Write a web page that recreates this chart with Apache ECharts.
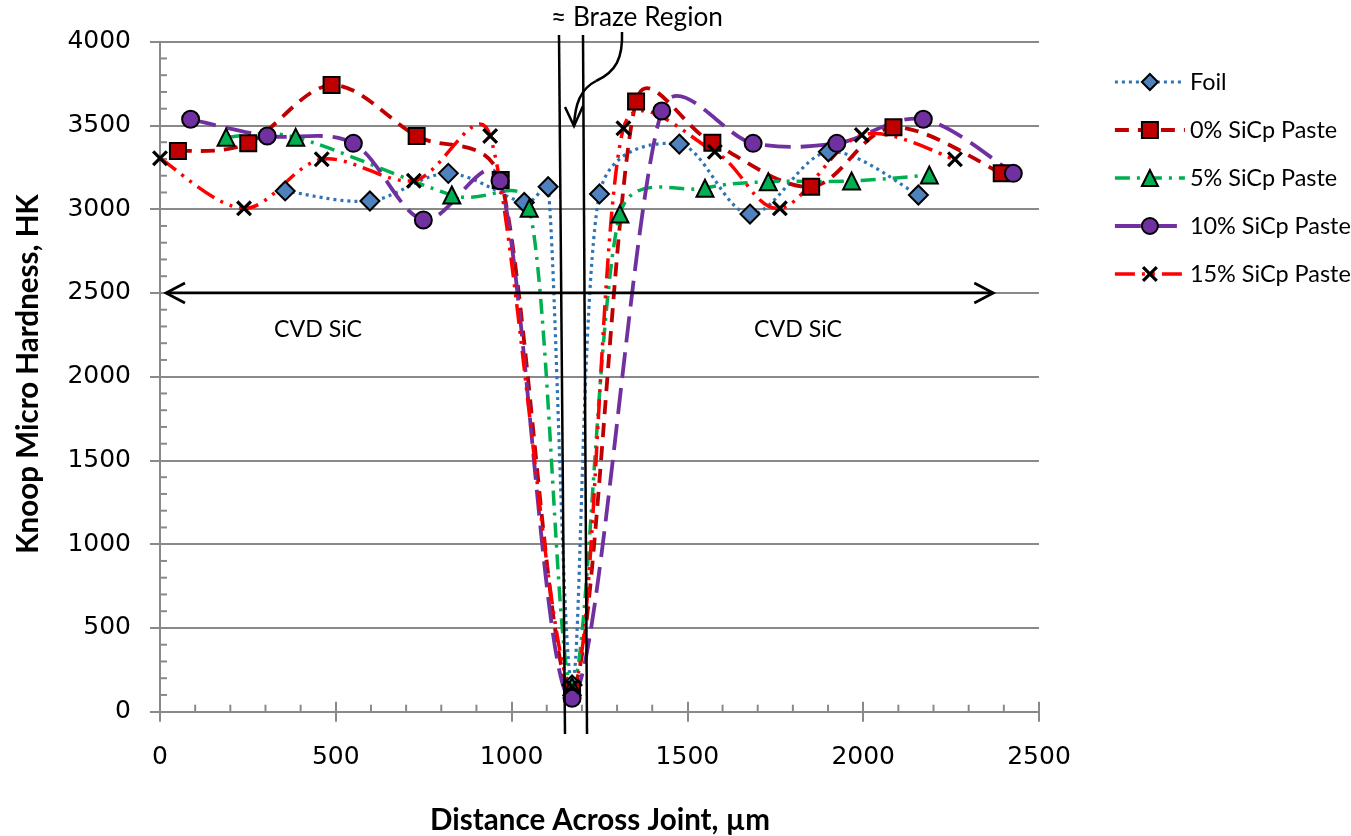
<!DOCTYPE html>
<html><head><meta charset="utf-8">
<script src="https://cdn.jsdelivr.net/npm/echarts@6/dist/echarts.min.js"></script>
<style>html,body{margin:0;padding:0;background:#fff}#c{width:1351px;height:836px}</style>
</head><body><div id="c"></div>
<script>
// ---- data (distance µm, Knoop hardness HK) ----
const seriesNames = ['Foil', '0% SiCp Paste', '5% SiCp Paste', '10% SiCp Paste', '15% SiCp Paste'];
const foilX = [356, 597, 820, 1036, 1104, 1172, 1250, 1477, 1678, 1901, 2157];
const foilY = [3109, 3049, 3214, 3040, 3134, 160, 3091, 3389, 2971, 3343, 3085];
const p0X = [51, 251, 488, 730, 969, 1172, 1354, 1571, 1852, 2086, 2394];
const p0Y = [3347, 3393, 3741, 3437, 3174, 130, 3643, 3397, 3134, 3489, 3214];
const p5X = [188, 386, 830, 1050, 1172, 1308, 1550, 1730, 1967, 2188];
const p5Y = [3429, 3429, 3085, 3005, 150, 2971, 3125, 3164, 3168, 3204];
const p10X = [87, 305, 550, 749, 967, 1172, 1427, 1687, 1925, 2171, 2427];
const p10Y = [3537, 3437, 3393, 2936, 3170, 80, 3586, 3393, 3393, 3537, 3214];
const p15X = [0, 239, 460, 722, 939, 1172, 1318, 1578, 1763, 1996, 2261];
const p15Y = [3304, 3005, 3298, 3170, 3437, 150, 3483, 3343, 3005, 3443, 3298];
const xTicks = {min: 0, max: 2500, step: 500, minor: 100};
const yTicks = {min: 0, max: 4000, step: 500, minor: 100};

const pairs = (xs, ys) => xs.map((x, i) => [x, ys[i]]);

const ctx = document.createElement('canvas').getContext('2d');
function fit(text, family, weight, w) {
  ctx.font = weight + ' 100px ' + family;
  return 100 * w / ctx.measureText(text).width;
}
const TF = 'Lato';
const titleSize = fit('Distance Across Joint, µm', TF, 'bold', 340);
const legendSize = fit('15% SiCp Paste', TF, 'normal', 161);
const cvdSize = fit('CVD SiC', TF, 'normal', 88);
const brazeSize = fit('≈ Braze Region', TF, 'normal', 172);

const AX = '#898989';
const XPATH = 'path://M2,0 L7,5 L12,0 L14,2 L9,7 L14,12 L12,14 L7,9 L2,14 L0,12 L5,7 L0,2 Z';

// spreadsheet-style smoothed curve through pixel points (Bezier, 1/6 tangents, capped at half segment)
function smoothPath(pts) {
  const n = pts.length;
  const tan = i => {
    const a = pts[Math.max(i - 1, 0)], b = pts[Math.min(i + 1, n - 1)];
    return [(b[0] - a[0]) / 6, (b[1] - a[1]) / 6];
  };
  let d = 'M' + pts[0][0] + ' ' + pts[0][1];
  for (let i = 0; i < n - 1; i++) {
    const p = pts[i], q = pts[i + 1];
    const half = Math.hypot(q[0] - p[0], q[1] - p[1]) / 2;
    const t0 = tan(i), t1 = tan(i + 1);
    const l0 = Math.hypot(t0[0], t0[1]), l1 = Math.hypot(t1[0], t1[1]);
    const s0 = l0 > half ? half / l0 : 1, s1 = l1 > half ? half / l1 : 1;
    d += ' C' + (p[0] + t0[0] * s0) + ' ' + (p[1] + t0[1] * s0) + ' ' +
         (q[0] - t1[0] * s1) + ' ' + (q[1] - t1[1] * s1) + ' ' + q[0] + ' ' + q[1];
  }
  return d;
}

const styles = [
  {line: '#2E75B6', lw: 3.2, dash: [3, 4], symbol: 'diamond', size: 19, fill: '#4F81BD', border: true},
  {line: '#C00000', lw: 3.8, dash: [14, 9], symbol: 'rect', size: 16, fill: '#C00000', border: true},
  {line: '#00B050', lw: 3.5, dash: [15, 7, 3, 7], symbol: 'triangle', size: 17, fill: '#00B050', border: true},
  {line: '#7030A0', lw: 3.8, dash: [26, 10], symbol: 'circle', size: 17, fill: '#7030A0', border: true},
  {line: '#FF0000', lw: 3.5, dash: [20, 7, 3, 7, 3, 7], symbol: XPATH, size: 16, fill: '#000', border: false}
];
const datasets = [pairs(foilX, foilY), pairs(p0X, p0Y), pairs(p5X, p5Y), pairs(p10X, p10Y), pairs(p15X, p15Y)];

const series = [];
datasets.forEach((data, k) => {
  const s = styles[k];
  series.push({
    name: seriesNames[k] + ' curve', type: 'custom', data, z: 2 + k * 0.01, silent: true,
    renderItem: (params, api) => {
      if (params.dataIndex !== 0) return null;
      const pts = data.map(v => api.coord(v));
      return {type: 'path', shape: {pathData: smoothPath(pts)},
              style: {fill: null, stroke: s.line, lineWidth: s.lw, lineDash: s.dash}};
    }
  });
});
datasets.forEach((data, k) => {
  const s = styles[k];
  series.push({
    name: seriesNames[k], type: 'line', data, symbol: s.symbol, symbolSize: s.size, showSymbol: true,
    lineStyle: {opacity: 0, color: s.line, width: s.lw, type: s.dash},
    itemStyle: {color: s.fill, borderColor: s.border ? '#000' : s.fill, borderWidth: s.border ? 2 : 0},
    emphasis: {disabled: true}, silent: true, z: 3 + k * 0.01
  });
});

const chart = echarts.init(document.getElementById('c'), null, {renderer: 'canvas'});
const tickLabel = {fontFamily: 'DejaVu Sans', fontSize: 25, color: '#000', formatter: v => String(v)};
const tickLine = {color: AX, width: 2};
function axis(t, extra) {
  return Object.assign({type: 'value', min: t.min, max: t.max, interval: t.step,
    axisLine: {show: false}, axisLabel: {show: false}, splitLine: {show: false}}, extra);
}
const G = {left: 160, right: 312, top: 41.7, bottom: 124.3};
const option = {
  animation: false,
  backgroundColor: '#fff',
  grid: [Object.assign({}, G), Object.assign({}, G)],
  xAxis: [
    axis(xTicks, {gridIndex: 0, position: 'bottom',
      axisLine: {show: true, lineStyle: {color: AX, width: 2}},
      axisTick: {inside: true, length: 10, lineStyle: tickLine},
      axisLabel: Object.assign({show: true, margin: 33}, tickLabel)}),
    axis(xTicks, {gridIndex: 1, position: 'bottom', axisTick: {inside: false, length: 10, lineStyle: tickLine}})
  ],
  yAxis: [
    axis(yTicks, {gridIndex: 0, position: 'left',
      axisLine: {show: true, lineStyle: {color: AX, width: 2}},
      axisTick: {show: true, inside: true, length: 10, lineStyle: tickLine},
      splitLine: {show: true, lineStyle: {color: AX, width: 2}},
      axisLabel: Object.assign({show: true, margin: 29}, tickLabel)}),
    axis(yTicks, {gridIndex: 1, position: 'left', axisTick: {show: true, inside: false, length: 10, lineStyle: tickLine}})
  ],
  legend: {
    orient: 'vertical', left: 1108, top: 64, itemWidth: 70, itemHeight: 20, itemGap: 22,
    data: seriesNames.map((n, k) => ({name: n,
      lineStyle: {color: styles[k].line, width: styles[k].lw, type: styles[k].dash, opacity: 1}})),
    textStyle: {fontFamily: TF, fontSize: legendSize, color: '#000', lineHeight: 26}
  },
  series,
  graphic: []
};
chart.setOption(option);

// ---- minor ticks (inside) and annotations ----
const K = '#000';
const g = [];
const x0px = chart.convertToPixel({xAxisIndex: 0}, xTicks.min);
const y0px = chart.convertToPixel({yAxisIndex: 0}, yTicks.min);
for (let v = xTicks.min + xTicks.minor; v < xTicks.max; v += xTicks.minor) {
  if (v % xTicks.step === 0) continue;
  const px = chart.convertToPixel({xAxisIndex: 0}, v);
  g.push({type: 'line', shape: {x1: px, y1: y0px, x2: px, y2: y0px - 7}, style: {stroke: AX, lineWidth: 2}, z: 1});
}
for (let v = yTicks.min + yTicks.minor; v < yTicks.max; v += yTicks.minor) {
  if (v % yTicks.step === 0) continue;
  const py = chart.convertToPixel({yAxisIndex: 0}, v);
  g.push({type: 'line', shape: {x1: x0px, y1: py, x2: x0px + 7, y2: py}, style: {stroke: AX, lineWidth: 2}, z: 1});
}
g.push({type: 'line', shape: {x1: 559, y1: 35, x2: 565, y2: 734}, style: {stroke: K, lineWidth: 2.5}, z: 10});
g.push({type: 'line', shape: {x1: 583, y1: 35, x2: 587, y2: 734}, style: {stroke: K, lineWidth: 2.5}, z: 10});
const ay = chart.convertToPixel({yAxisIndex: 0}, 2500);
const axL = chart.convertToPixel({xAxisIndex: 0}, 17);
const axR = chart.convertToPixel({xAxisIndex: 0}, 2370);
g.push({type: 'line', shape: {x1: axL, y1: ay, x2: axR, y2: ay}, style: {stroke: K, lineWidth: 2.7}, z: 10});
g.push({type: 'polyline', shape: {points: [[axL + 19, ay - 10], [axL, ay], [axL + 19, ay + 10]]}, style: {stroke: K, lineWidth: 2.7, fill: null}, z: 10});
g.push({type: 'polyline', shape: {points: [[axR - 19, ay - 10], [axR, ay], [axR - 19, ay + 10]]}, style: {stroke: K, lineWidth: 2.7, fill: null}, z: 10});
g.push({type: 'bezierCurve', shape: {x1: 622, y1: 32, cpx1: 623, cpy1: 58, cpx2: 616, cpy2: 72, x2: 596, y2: 81}, style: {stroke: K, lineWidth: 2.5, fill: null}, z: 10});
g.push({type: 'bezierCurve', shape: {x1: 596, y1: 81, cpx1: 580, cpy1: 89, cpx2: 575, cpy2: 105, x2: 574, y2: 126}, style: {stroke: K, lineWidth: 2.5, fill: null}, z: 10});
g.push({type: 'polyline', shape: {points: [[565, 107], [574, 126], [583, 106]]}, style: {stroke: K, lineWidth: 2.5, fill: null}, z: 10});
g.push({type: 'text', x: 637, y: 18, style: {text: '≈ Braze Region', fontFamily: TF, fontSize: brazeSize, fill: K, align: 'center', verticalAlign: 'middle'}, z: 10});
g.push({type: 'text', x: 318, y: 330, style: {text: 'CVD SiC', fontFamily: TF, fontSize: cvdSize, fill: K, align: 'center', verticalAlign: 'middle'}, z: 10});
g.push({type: 'text', x: 798, y: 330, style: {text: 'CVD SiC', fontFamily: TF, fontSize: cvdSize, fill: K, align: 'center', verticalAlign: 'middle'}, z: 10});
g.push({type: 'text', x: 600, y: 820, style: {text: 'Distance Across Joint, µm', fontFamily: TF, fontWeight: 'bold', fontSize: titleSize, fill: K, align: 'center', verticalAlign: 'middle'}, z: 10});
g.push({type: 'text', x: 28, y: 374, rotation: Math.PI / 2, style: {text: 'Knoop Micro Hardness, HK', fontFamily: TF, fontWeight: 'bold', fontSize: titleSize, fill: K, align: 'center', verticalAlign: 'middle'}, z: 10});
chart.setOption({graphic: g});
</script>
</body></html>
